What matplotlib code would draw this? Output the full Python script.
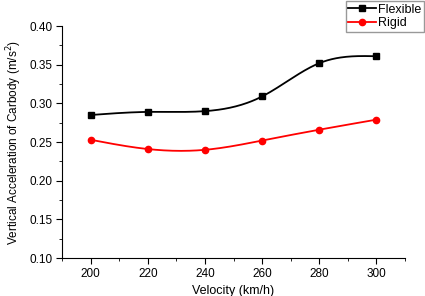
import numpy as np
import matplotlib.pyplot as plt
from matplotlib.ticker import MultipleLocator

plt.rcParams['font.family'] = ['Liberation Sans', 'DejaVu Sans']

velocity = [200, 220, 240, 260, 280, 300]
flexible = [0.285, 0.289, 0.290, 0.309, 0.352, 0.361]
rigid = [0.253, 0.241, 0.240, 0.252, 0.266, 0.279]


def smooth(x, y, n=200):
    # natural cubic spline, only used to draw the curve between the points
    x = np.asarray(x, float)
    y = np.asarray(y, float)
    h = np.diff(x)
    m = len(x)
    A = np.zeros((m, m))
    b = np.zeros(m)
    A[0, 0] = A[-1, -1] = 1
    for i in range(1, m - 1):
        A[i, i - 1] = h[i - 1]
        A[i, i] = 2 * (h[i - 1] + h[i])
        A[i, i + 1] = h[i]
        b[i] = 6 * ((y[i + 1] - y[i]) / h[i] - (y[i] - y[i - 1]) / h[i - 1])
    M = np.linalg.solve(A, b)
    xs = np.linspace(x[0], x[-1], n)
    idx = np.clip(np.searchsorted(x, xs) - 1, 0, m - 2)
    t0 = x[idx + 1] - xs
    t1 = xs - x[idx]
    hi = h[idx]
    ys = (M[idx] * t0**3 + M[idx + 1] * t1**3) / (6 * hi) \
        + (y[idx] / hi - M[idx] * hi / 6) * t0 \
        + (y[idx + 1] / hi - M[idx + 1] * hi / 6) * t1
    return xs, ys


fig = plt.figure(figsize=(4.25, 2.96), dpi=100)
ax = fig.add_axes([0.146, 0.128, 0.807, 0.784])

for ys, col, mk, lab in [(flexible, 'black', 's', 'Flexible'), (rigid, 'red', 'o', 'Rigid')]:
    sx, sy = smooth(velocity, ys)
    ax.plot(sx, sy, color=col, lw=1.3)
    ax.plot(velocity, ys, mk, color=col, ms=4.5, ls='none')
    ax.plot([], [], color=col, marker=mk, ms=4.5, lw=1.3, label=lab)

ax.set_xlim(190, 310)
ax.set_ylim(0.10, 0.40)
ax.xaxis.set_major_locator(MultipleLocator(20))
ax.xaxis.set_minor_locator(MultipleLocator(10))
ax.yaxis.set_major_locator(MultipleLocator(0.05))
ax.yaxis.set_minor_locator(MultipleLocator(0.025))
ax.yaxis.set_major_formatter(plt.FormatStrFormatter('%.2f'))
ax.spines['top'].set_visible(False)
ax.spines['right'].set_visible(False)
ax.tick_params(which='major', direction='out', length=4, labelsize=8.5, pad=3)
ax.tick_params(which='minor', direction='out', length=2.5)
ax.set_xlabel('Velocity (km/h)', fontsize=9)
ax.set_ylabel('Vertical Acceleration of Carbody (m/s$^2$)', fontsize=8.5, labelpad=4)

fig.legend(loc='upper right', bbox_to_anchor=(1.0, 1.0), fontsize=9, frameon=True,
           fancybox=False, edgecolor='gray', borderpad=0.2, labelspacing=0.1,
           handlelength=2.2, handletextpad=0.2, borderaxespad=0.1)

plt.savefig('out.png', dpi=100)
